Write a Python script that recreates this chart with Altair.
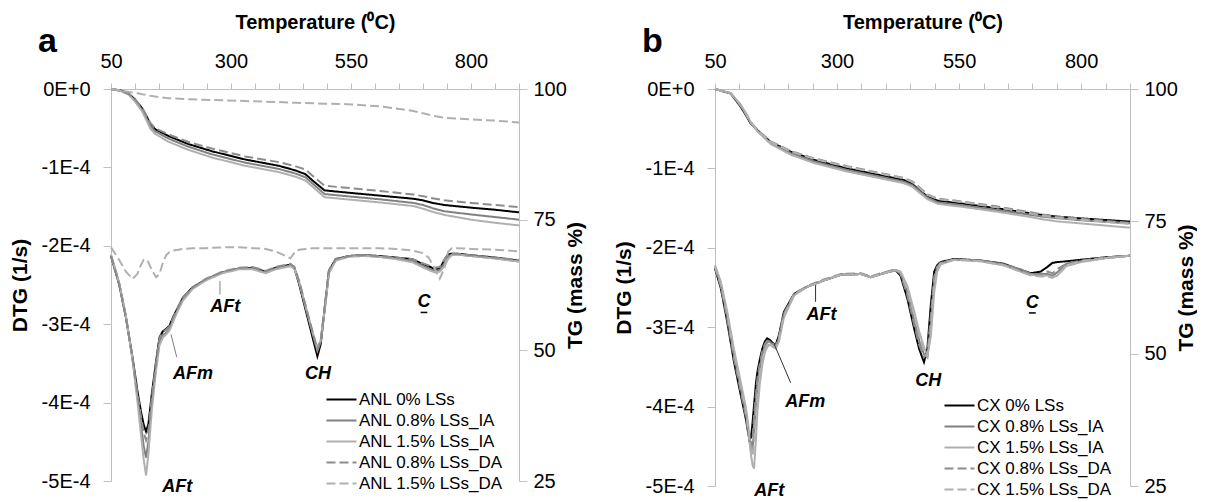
import altair as alt
import pandas as pd

FONT = "Liberation Sans"

# ---------------- series names and styles ----------------
SERIES_A = ["ANL 0% LSs", "ANL 0.8% LSs_IA", "ANL 1.5% LSs_IA", "ANL 0.8% LSs_DA", "ANL 1.5% LSs_DA"]
SERIES_B = ["CX 0% LSs", "CX 0.8% LSs_IA", "CX 1.5% LSs_IA", "CX 0.8% LSs_DA", "CX 1.5% LSs_DA"]
LINE_COLORS = ["#000000", "#808080", "#b0b0b0", "#8c8c8c", "#b0b0b0"]
LINE_DASHES = [[1, 0], [1, 0], [1, 0], [9, 4], [9, 4]]

# ---------------- panel a: ANL ----------------
# DTG values are given in units of 1E-4 1/s
TA_DTG = [50, 67, 81, 95, 105, 112, 118, 123, 128, 135, 144, 151, 158, 165, 172, 180, 190, 200, 220, 248,
          282, 317, 345, 372, 393, 424, 432, 442, 456, 470, 480, 487, 497, 504, 518, 546, 574, 608, 643, 678,
          698, 712, 725, 735, 745, 752, 760, 770, 800, 850, 900]
ANL_0_DTG = [-2.13, -2.49, -2.91, -3.43, -3.85, -4.10, -4.28, -4.37, -4.27, -3.89, -3.47, -3.17, -3.09, -3.06, -3.02,
             -2.90, -2.78, -2.66, -2.53, -2.43, -2.34, -2.29, -2.28, -2.33, -2.28, -2.24, -2.28, -2.49, -2.83, -3.17,
             -3.41, -3.25, -2.70, -2.32, -2.17, -2.13, -2.12, -2.13, -2.15, -2.17, -2.23, -2.26, -2.30, -2.29, -2.18,
             -2.11, -2.10, -2.10, -2.12, -2.15, -2.19]
ANL_08IA_DTG = [-2.12, -2.48, -2.90, -3.45, -3.92, -4.25, -4.55, -4.70, -4.50, -4.00, -3.52, -3.22, -3.14, -3.11, -3.06,
                -2.93, -2.80, -2.68, -2.54, -2.43, -2.34, -2.29, -2.29, -2.34, -2.29, -2.25, -2.29, -2.47, -2.80, -3.12,
                -3.34, -3.22, -2.72, -2.34, -2.18, -2.13, -2.12, -2.14, -2.16, -2.19, -2.25, -2.29, -2.32, -2.31, -2.22,
                -2.14, -2.11, -2.11, -2.13, -2.16, -2.20]
ANL_15IA_DTG = [-2.11, -2.47, -2.89, -3.46, -3.98, -4.38, -4.72, -4.93, -4.65, -4.10, -3.58, -3.27, -3.17, -3.13, -3.08,
                -2.96, -2.82, -2.70, -2.55, -2.44, -2.35, -2.30, -2.30, -2.35, -2.30, -2.26, -2.29, -2.46, -2.78, -3.10,
                -3.30, -3.20, -2.73, -2.35, -2.19, -2.14, -2.13, -2.14, -2.17, -2.21, -2.27, -2.31, -2.34, -2.33, -2.26,
                -2.17, -2.12, -2.11, -2.13, -2.16, -2.20]
ANL_08DA_DTG = [-2.13, -2.49, -2.91, -3.44, -3.88, -4.16, -4.38, -4.48, -4.35, -3.93, -3.49, -3.18, -3.10, -3.07, -3.03,
                -2.91, -2.78, -2.66, -2.53, -2.42, -2.33, -2.28, -2.27, -2.32, -2.27, -2.23, -2.27, -2.45, -2.78, -3.10,
                -3.33, -3.20, -2.68, -2.31, -2.17, -2.13, -2.12, -2.13, -2.15, -2.17, -2.22, -2.25, -2.28, -2.27, -2.17,
                -2.11, -2.10, -2.10, -2.12, -2.15, -2.18]
ANL_15DA_DTG = [-2.02, -2.18, -2.33, -2.42, -2.36, -2.25, -2.18, -2.17, -2.21, -2.31, -2.40, -2.36, -2.22, -2.12, -2.08,
                -2.06, -2.05, -2.04, -2.03, -2.03, -2.02, -2.02, -2.03, -2.04, -2.07, -2.16, -2.09, -2.05, -2.04, -2.03,
                -2.03, -2.03, -2.03, -2.03, -2.03, -2.03, -2.03, -2.03, -2.04, -2.06, -2.09, -2.15, -2.30, -2.42, -2.28,
                -2.08, -2.03, -2.03, -2.04, -2.05, -2.07]

TA_TG = [50, 70, 87, 100, 115, 125, 132, 142, 170, 210, 260, 330, 400, 435, 455, 475, 495, 540, 610, 680,
         700, 720, 745, 800, 850, 900]
ANL_0_TG = [100, 99.7, 99.1, 98.0, 96.3, 94.6, 93.3, 92.3, 91.0, 89.5, 88.1, 86.5, 85.3, 84.4, 83.7, 82.1, 80.6,
            80.2, 79.6, 79.0, 78.7, 78.2, 77.8, 77.3, 76.9, 76.4]
ANL_08IA_TG = [100, 99.7, 99.0, 97.8, 96.0, 94.2, 92.9, 91.9, 90.5, 89.0, 87.5, 85.9, 84.7, 83.8, 83.1, 81.5, 79.9,
               79.5, 78.9, 78.2, 77.8, 77.2, 76.6, 76.0, 75.5, 75.0]
ANL_15IA_TG = [100, 99.6, 98.9, 97.6, 95.7, 93.8, 92.4, 91.4, 89.9, 88.4, 86.9, 85.3, 84.1, 83.2, 82.5, 80.9, 79.3,
               78.9, 78.3, 77.6, 77.1, 76.5, 75.9, 75.0, 74.4, 73.9]
ANL_08DA_TG = [100, 99.7, 99.1, 98.0, 96.4, 94.7, 93.5, 92.5, 91.3, 89.9, 88.6, 87.1, 86.0, 85.2, 84.6, 83.0, 81.5,
               81.1, 80.5, 79.8, 79.5, 79.1, 78.7, 78.2, 77.8, 77.4]
ANL_15DA_TG = [100, 99.75, 99.45, 99.3, 99.0, 98.85, 98.7, 98.55, 98.25, 98.05, 97.9, 97.7, 97.5, 97.35, 97.3, 97.25,
               97.2, 97.1, 96.7, 95.8, 95.35, 94.9, 94.5, 94.2, 93.95, 93.6]

# ---------------- panel b: CX ----------------
TB_DTG = [50, 62, 75, 89, 103, 113, 118, 121, 124, 127, 130, 134, 137, 142, 147, 152, 157, 162, 167, 174,
          181, 191, 212, 239, 273, 308, 349, 369, 390, 420, 430, 444, 458, 468, 478, 485, 492, 499, 505, 512,
          540, 594, 641, 676, 697, 717, 731, 741, 751, 770, 800, 850, 900]
CX_0_DTG = [-2.26, -2.51, -2.93, -3.44, -3.86, -4.15, -4.33, -4.42, -4.38, -4.20, -3.98, -3.70, -3.56, -3.40, -3.27,
            -3.18, -3.14, -3.16, -3.19, -3.23, -3.10, -2.81, -2.58, -2.49, -2.41, -2.34, -2.33, -2.37, -2.33, -2.28,
            -2.35, -2.64, -3.02, -3.27, -3.44, -3.27, -2.72, -2.30, -2.22, -2.18, -2.14, -2.16, -2.20, -2.28, -2.32,
            -2.30, -2.24, -2.19, -2.18, -2.17, -2.15, -2.12, -2.10]
CX_08IA_DTG = [-2.24, -2.47, -2.86, -3.36, -3.78, -4.08, -4.30, -4.45, -4.56, -4.52, -4.30, -3.95, -3.72, -3.50, -3.34,
               -3.24, -3.19, -3.18, -3.21, -3.25, -3.14, -2.84, -2.59, -2.49, -2.41, -2.34, -2.33, -2.37, -2.33, -2.28,
               -2.32, -2.56, -2.92, -3.16, -3.34, -3.38, -2.98, -2.42, -2.26, -2.19, -2.15, -2.16, -2.21, -2.27, -2.33,
               -2.33, -2.33, -2.35, -2.31, -2.20, -2.17, -2.13, -2.10]
CX_15IA_DTG = [-2.22, -2.43, -2.80, -3.28, -3.70, -4.00, -4.22, -4.45, -4.62, -4.74, -4.78, -4.40, -4.05, -3.70, -3.47,
               -3.32, -3.25, -3.22, -3.24, -3.27, -3.18, -2.88, -2.60, -2.49, -2.41, -2.34, -2.33, -2.37, -2.33, -2.28,
               -2.30, -2.48, -2.80, -3.05, -3.25, -3.36, -3.12, -2.56, -2.30, -2.21, -2.15, -2.17, -2.22, -2.30, -2.34,
               -2.35, -2.35, -2.37, -2.35, -2.23, -2.18, -2.13, -2.10]
CX_08DA_DTG = [-2.25, -2.49, -2.89, -3.40, -3.82, -4.12, -4.32, -4.45, -4.52, -4.40, -4.12, -3.82, -3.64, -3.45, -3.30,
               -3.21, -3.17, -3.17, -3.20, -3.24, -3.12, -2.83, -2.58, -2.48, -2.40, -2.33, -2.32, -2.36, -2.32, -2.27,
               -2.33, -2.60, -2.97, -3.22, -3.38, -3.33, -2.85, -2.36, -2.24, -2.19, -2.15, -2.16, -2.21, -2.29, -2.33,
               -2.33, -2.30, -2.32, -2.27, -2.20, -2.16, -2.12, -2.10]
CX_15DA_DTG = [-2.23, -2.45, -2.83, -3.32, -3.74, -4.04, -4.26, -4.43, -4.58, -4.62, -4.45, -4.10, -3.85, -3.58, -3.40,
               -3.28, -3.22, -3.20, -3.23, -3.26, -3.16, -2.86, -2.59, -2.49, -2.41, -2.34, -2.33, -2.37, -2.33, -2.28,
               -2.31, -2.52, -2.85, -3.10, -3.30, -3.37, -3.05, -2.48, -2.28, -2.20, -2.15, -2.17, -2.22, -2.30, -2.35,
               -2.36, -2.36, -2.38, -2.34, -2.22, -2.17, -2.13, -2.10]

TB_TG = [50, 82, 103, 115, 123, 137, 164, 205, 253, 321, 390, 437, 455, 465, 485, 506, 560, 629, 697, 720,
         750, 800, 850, 900]
CX_0_TG = [100, 99.15, 96.6, 94.8, 93.5, 92.2, 90.0, 88.15, 86.6, 85.0, 83.7, 82.8, 82.0, 81.2, 79.7, 78.9, 78.3,
           77.45, 76.5, 76.2, 75.9, 75.55, 75.25, 74.95]
CX_08IA_TG = [100, 99.2, 96.8, 95.0, 93.6, 92.1, 89.8, 87.9, 86.3, 84.7, 83.4, 82.5, 81.8, 81.0, 79.5, 78.6, 78.0,
              77.1, 76.2, 75.9, 75.6, 75.2, 74.9, 74.6]
CX_15IA_TG = [100, 99.25, 97.0, 95.2, 93.8, 92.0, 89.6, 87.6, 86.0, 84.4, 83.1, 82.2, 81.5, 80.7, 79.2, 78.3, 77.7,
              76.8, 75.8, 75.4, 75.0, 74.6, 74.2, 73.8]
CX_08DA_TG = [100, 99.2, 96.8, 95.0, 93.7, 92.3, 90.1, 88.3, 86.9, 85.4, 84.1, 83.2, 82.5, 81.7, 80.1, 79.3, 78.7,
              77.8, 76.7, 76.3, 75.9, 75.5, 75.1, 74.7]
CX_15DA_TG = [100, 99.25, 96.9, 95.1, 93.7, 92.2, 90.0, 88.2, 86.8, 85.3, 84.0, 83.1, 82.4, 81.6, 80.0, 79.2, 78.6,
              77.6, 76.5, 76.1, 75.7, 75.3, 74.9, 74.5]

# ---------------- peak labels (temperature, DTG in 1E-4 1/s) ----------------
LABELS_A = ["AFt", "AFt", "AFm", "CH", "C"]
LABEL_T_A = [188, 288, 221, 481, 702]
LABEL_V_A = [-5.08, -2.78, -3.64, -3.64, -2.72]
LEADER_A = [(277, -2.45, 277, -2.62), (175, -3.13, 187, -3.42)]
UNDERLINE_A = (695, 709, -2.85)

LABELS_B = ["AFt", "AFt", "AFm", "CH", "C"]
LABEL_T_B = [161, 268, 235, 487, 700]
LABEL_V_B = [-5.06, -2.85, -3.94, -3.68, -2.69]
LEADER_B = [(256, -2.47, 256, -2.68), (171, -3.21, 205, -3.70)]
UNDERLINE_B = (693, 707, -2.82)

E4 = 1e-4


def long_table(temps, names, columns, scale=1.0):
    rows = []
    for name, vals in zip(names, columns):
        for t, v in zip(temps, vals):
            rows.append({"series": name, "T": t, "v": v * scale})
    return pd.DataFrame(rows)


def x_enc():
    return alt.X(
        "T:Q",
        scale=alt.Scale(domain=[50, 900], nice=False, zero=False),
        axis=alt.Axis(
            orient="top", values=list(range(50, 901, 50)),
            labelExpr="(datum.value - 50) % 250 == 0 ? datum.label : ''",
            title="Temperature (\u2070C)", tickSize=6, labelPadding=12, titlePadding=19,
            labelFlush=False, labelOverlap=False,
        ),
    )


def y_dtg(field="v"):
    return alt.Y(
        f"{field}:Q",
        scale=alt.Scale(domain=[-5 * E4, 0], nice=False, zero=False),
        axis=alt.Axis(
            orient="left", values=[0, -1 * E4, -2 * E4, -3 * E4, -4 * E4, -5 * E4],
            labelExpr="datum.value == 0 ? '0E+0' : round(datum.value * 10000) + 'E-4'",
            title="DTG (1/s)", titleFontSize=21, tickSize=8, labelPadding=13, titlePadding=11,
            labelFlush=False, labelOverlap=False,
        ),
    )


def y_tg():
    return alt.Y(
        "v:Q",
        scale=alt.Scale(domain=[25, 100], nice=False, zero=False),
        axis=alt.Axis(
            orient="right", values=[25, 50, 75, 100], title="TG (mass %)", titleFontSize=21,
            titleAngle=270, tickSize=8, labelPadding=6, titlePadding=19,
            labelFlush=False, labelOverlap=False,
        ),
    )


def style_enc(names, lx, ly):
    legend = alt.Legend(
        orient="none", legendX=lx, legendY=ly, title=None,
        symbolType="M-2,0H2", symbolSize=225, symbolStrokeWidth=2,
        labelFont=FONT, labelFontSize=17, labelColor="#000000",
        rowPadding=3, labelOffset=9, padding=0, labelLimit=0,
    )
    color = alt.Color("series:N", scale=alt.Scale(domain=names, range=LINE_COLORS), legend=legend)
    dash = alt.StrokeDash("series:N", scale=alt.Scale(domain=names, range=LINE_DASHES), legend=legend)
    return color, dash


def panel(letter, names, t_dtg, dtg_cols, t_tg, tg_cols, labels, lab_t, lab_v, leaders, underline,
          leader_color, lx, ly, w, h):
    dtg = long_table(t_dtg, names, dtg_cols, E4)
    tg = long_table(t_tg, names, tg_cols)
    color, dash = style_enc(names, lx, ly)

    dtg_lines = alt.Chart(dtg).mark_line(strokeWidth=2).encode(
        x=x_enc(), y=y_dtg(), color=color, strokeDash=dash, detail="series:N"
    )
    tg_lines = alt.Chart(tg).mark_line(strokeWidth=2).encode(
        x=x_enc(), y=y_tg(), color=color, strokeDash=dash, detail="series:N"
    )

    lab = pd.DataFrame({"label": labels, "T": lab_t, "v": [v * E4 for v in lab_v]})
    text = alt.Chart(lab).mark_text(
        font=FONT, fontSize=18, fontWeight="bold", fontStyle="italic", color="#000000"
    ).encode(x=x_enc(), y=y_dtg(), text="label:N")

    ld = pd.DataFrame({
        "T": [a[0] for a in leaders], "v": [a[1] * E4 for a in leaders],
        "T2": [a[2] for a in leaders], "v2": [a[3] * E4 for a in leaders],
    })
    lead = alt.Chart(ld).mark_rule(color=leader_color, strokeWidth=1).encode(
        x=x_enc(), y=y_dtg(), x2="T2:Q", y2="v2:Q"
    )
    ul = pd.DataFrame({"T": [underline[0]], "T2": [underline[1]], "v": [underline[2] * E4]})
    under = alt.Chart(ul).mark_rule(color="#000000", strokeWidth=1.5).encode(
        x=x_enc(), x2="T2:Q", y=y_dtg()
    )

    left = alt.layer(dtg_lines, lead, under, text)
    return alt.layer(
        left, tg_lines,
        title=alt.TitleParams(
            letter, anchor="start", frame="group", orient="top", font=FONT, fontSize=34,
            fontWeight="bold", color="#000000", offset=-47, dx=-73,
        ),
    ).resolve_scale(y="independent").properties(width=w, height=h)


panel_a = panel(
    "a", SERIES_A, TA_DTG, [ANL_0_DTG, ANL_08IA_DTG, ANL_15IA_DTG, ANL_08DA_DTG, ANL_15DA_DTG],
    TA_TG, [ANL_0_TG, ANL_08IA_TG, ANL_15IA_TG, ANL_08DA_TG, ANL_15DA_TG],
    LABELS_A, LABEL_T_A, LABEL_V_A, LEADER_A, UNDERLINE_A, "#808080", 222, 302, 408, 392,
)
panel_b = panel(
    "b", SERIES_B, TB_DTG, [CX_0_DTG, CX_08IA_DTG, CX_15IA_DTG, CX_08DA_DTG, CX_15DA_DTG],
    TB_TG, [CX_0_TG, CX_08IA_TG, CX_15IA_TG, CX_08DA_TG, CX_15DA_TG],
    LABELS_B, LABEL_T_B, LABEL_V_B, LEADER_B, UNDERLINE_B, "#303030", 236, 308, 415, 397,
)

chart = (
    alt.hconcat(panel_a, panel_b, spacing=196, bounds="flush")
    .resolve_scale(color="independent", strokeDash="independent")
    .resolve_legend(color="independent", strokeDash="independent")
    .properties(padding={"left": 9, "top": 12, "right": 0, "bottom": 0}, background="#ffffff")
    .configure_view(stroke=None)
    .configure_axis(
        domainColor="#c0c0c0", tickColor="#c0c0c0", labelColor="#000000", titleColor="#000000",
        labelFont=FONT, titleFont=FONT, labelFontSize=20, titleFontSize=20, titleFontWeight="bold",
        grid=False,
    )
)

chart.save("out.html", embed_options={"renderer": "svg", "actions": False})
